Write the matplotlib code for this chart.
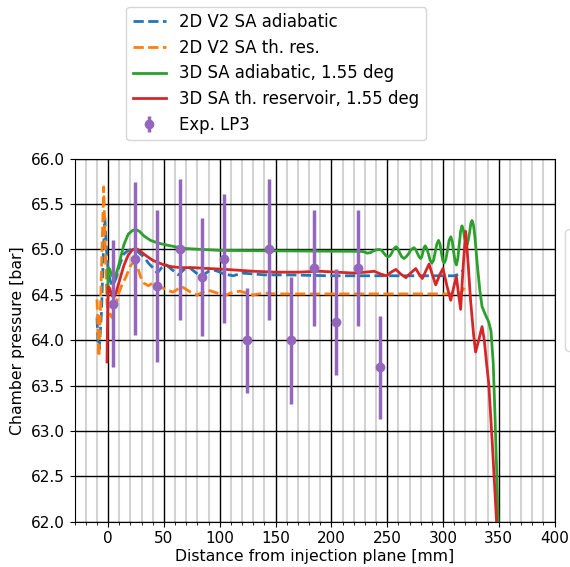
import matplotlib
matplotlib.use('Agg')
import matplotlib.pyplot as plt
from matplotlib.patches import FancyBboxPatch
from matplotlib.ticker import MultipleLocator

# 2D V2 SA adiabatic
blue_x = [-10, -9, -8, -6, -4.5, -3, -1.5, 0, 2, 4, 7, 10, 14, 18, 22, 25, 28, 32, 36, 40,
          44, 48, 52, 57, 63, 68, 73, 78, 83, 90, 96, 104, 112, 120, 130, 140, 160, 200,
          250, 300, 310, 315, 318]
blue_y = [64.25, 63.95, 63.9, 64.3, 64.9, 65.35, 65.0, 64.75, 64.65, 64.6, 64.68, 64.82,
          64.95, 64.99, 65.0, 65.0, 64.96, 64.92, 64.85, 64.8, 64.74, 64.8, 64.83, 64.78,
          64.72, 64.78, 64.8, 64.75, 64.7, 64.76, 64.77, 64.73, 64.71, 64.74, 64.73, 64.72,
          64.72, 64.71, 64.71, 64.71, 64.71, 64.73, 64.77]

# 2D V2 SA th. res.
orange_x = [-10, -9, -8.3, -7, -5.5, -4, -2.5, -1, 1, 3.5, 6, 9, 12, 16, 20, 23, 26, 29,
            32, 36, 40, 44, 48, 53, 58, 62, 66, 70, 75, 80, 85, 90, 95, 100, 106, 112,
            118, 124, 130, 140, 150, 200, 300, 314, 318, 320]
orange_y = [64.45, 64.1, 63.82, 64.3, 65.0, 65.69, 65.0, 64.4, 64.3, 64.25, 64.35, 64.5,
            64.6, 64.7, 64.82, 64.86, 64.82, 64.7, 64.63, 64.6, 64.63, 64.62, 64.58, 64.55,
            64.53, 64.56, 64.59, 64.56, 64.52, 64.5, 64.53, 64.55, 64.53, 64.51, 64.5,
            64.53, 64.54, 64.52, 64.5, 64.52, 64.51, 64.51, 64.51, 64.51, 64.55, 64.6]

# 3D SA adiabatic, 1.55 deg
green_x = [-0.5, 0, 1.5, 3, 5, 7, 10, 14, 18, 22, 25, 28, 32, 38, 45, 52, 60, 70, 85, 100,
           150, 220, 226, 229, 232, 235, 237, 240, 243, 245, 247, 249, 251, 252.5, 254,
           256, 258, 259.5, 261, 263, 265, 267, 269, 271.5, 274, 275.5, 277, 278.5, 280,
           281, 282, 283, 284, 285.5, 287, 288.5, 290, 291.5, 293, 294.5, 296, 297.3,
           298.5, 299.8, 301, 302.5, 304, 305.5, 307, 308.3, 309.5, 310.8, 312, 313.3,
           314.5, 315.8, 317, 318.3, 319.5, 320.6, 321.7, 322.9, 324, 325, 326, 327.3,
           328.5, 329.6, 330.6, 333, 335, 338, 341, 343, 345, 346.5, 348, 349.4, 351]
green_y = [64.5, 64.8, 64.78, 64.72, 64.69, 64.72, 64.85, 65.05, 65.17, 65.21, 65.22, 65.2,
           65.15, 65.1, 65.07, 65.05, 65.03, 65.01, 65.0, 64.99, 64.985, 64.98, 64.98,
           64.975, 64.96, 64.965, 64.98, 64.995, 65.0, 64.99, 64.96, 64.93, 64.92, 64.93,
           64.96, 65.01, 65.03, 65.01, 64.97, 64.92, 64.9, 64.92, 64.95, 65.0, 65.02,
           65.0, 64.96, 64.92, 64.9, 64.92, 64.97, 65.02, 65.04, 65.01, 64.95, 64.88,
           64.85, 64.88, 64.97, 65.06, 65.1, 65.06, 64.97, 64.88, 64.85, 64.89, 64.99,
           65.1, 65.14, 65.09, 64.98, 64.87, 64.83, 64.9, 65.05, 65.2, 65.26, 65.21,
           65.12, 65.06, 65.05, 65.12, 65.2, 65.29, 65.32, 65.27, 65.15, 65.0, 64.85,
           64.55, 64.37, 64.28, 64.2, 64.1, 63.75, 63.2, 62.6, 62.0, 61.4]

# 3D SA th. reservoir, 1.55 deg
red_x = [-1, -0.5, 0, 1.5, 3, 5, 7, 10, 14, 18, 22, 25, 28, 33, 40, 50, 57, 65, 76, 90,
         106, 130, 150, 170, 189, 205, 220, 230, 238.4, 244, 249.4, 253.5, 257.8, 262,
         266.7, 271, 275.6, 278.5, 281.5, 284.5, 287.5, 290.5, 293.5, 297, 300, 303.5,
         306.9, 309.5, 312, 314, 315.8, 318, 320.3, 322.5, 324.7, 327.5, 329.2, 332, 335,
         337, 339, 341, 344, 348, 349.5]
red_y = [63.76, 64.3, 64.59, 64.57, 64.5, 64.47, 64.52, 64.65, 64.82, 64.94, 65.0, 65.01,
         64.99, 64.94, 64.88, 64.83, 64.81, 64.8, 64.8, 64.79, 64.78, 64.76, 64.75, 64.75,
         64.76, 64.75, 64.74, 64.75, 64.76, 64.73, 64.71, 64.75, 64.78, 64.73, 64.69,
         64.74, 64.79, 64.73, 64.68, 64.76, 64.84, 64.72, 64.61, 64.72, 64.79, 64.6,
         64.44, 64.58, 64.7, 64.5, 64.34, 64.8, 65.2, 64.85, 64.44, 64.05, 63.87, 64.0,
         64.15, 64.0, 63.75, 63.52, 62.9, 62.0, 61.5]

# Exp. LP3
exp_x = [4, 24, 44, 64, 84, 104, 124, 144, 164, 184, 204, 224, 244]
exp_y = [64.4, 64.9, 64.6, 65.0, 64.7, 64.9, 64.0, 65.0, 64.0, 64.8, 64.2, 64.8, 63.7]
exp_err = [0.7, 0.84, 0.84, 0.78, 0.65, 0.71, 0.58, 0.78, 0.7, 0.64, 0.58, 0.64, 0.57]

fig = plt.figure(figsize=(5.7, 5.67), dpi=100)
ax = fig.add_axes([0.131, 0.080, 0.842, 0.640])

fs = 11.0
ax.plot(blue_x, blue_y, '--', color='tab:blue', lw=2, label='2D V2 SA adiabatic')
ax.plot(orange_x, orange_y, '--', color='tab:orange', lw=2, label='2D V2 SA th. res.')
ax.plot(green_x, green_y, '-', color='tab:green', lw=2, label='3D SA adiabatic, 1.55 deg')
ax.plot(red_x, red_y, '-', color='tab:red', lw=2, label='3D SA th. reservoir, 1.55 deg')
ax.errorbar(exp_x, exp_y, yerr=exp_err, fmt='o', color='tab:purple', ms=6,
            elinewidth=2.5, label='Exp. LP3')

ax.set_xlim(-30, 400)
ax.set_ylim(62.0, 66.0)
ax.xaxis.set_major_locator(MultipleLocator(50))
ax.xaxis.set_minor_locator(MultipleLocator(10))
ax.yaxis.set_major_locator(MultipleLocator(0.5))
ax.yaxis.set_major_formatter(matplotlib.ticker.FormatStrFormatter('%.1f'))
ax.grid(which='minor', axis='x', color='#d3d3d3', lw=1.5)
ax.grid(which='major', axis='both', color='black', lw=1)
ax.set_axisbelow(True)
ax.tick_params(labelsize=fs)
ax.set_xlabel('Distance from injection plane [mm]', fontsize=11.3, labelpad=2)
ax.set_ylabel('Chamber pressure [bar]', fontsize=11.3)

fig.legend(loc='upper left', bbox_to_anchor=(0.207, 1.003), fontsize=11.9,
           handlelength=2.0, labelspacing=0.46, borderpad=0.4)

# empty legend box cut by the right edge
fig.patches.append(FancyBboxPatch((0.992, 0.38), 0.1, 0.215, boxstyle='round,pad=0,rounding_size=0.008',
                                  transform=fig.transFigure, facecolor='white',
                                  edgecolor='#d8d8d8', lw=1, figure=fig))

fig.savefig('out.png', dpi=100)
